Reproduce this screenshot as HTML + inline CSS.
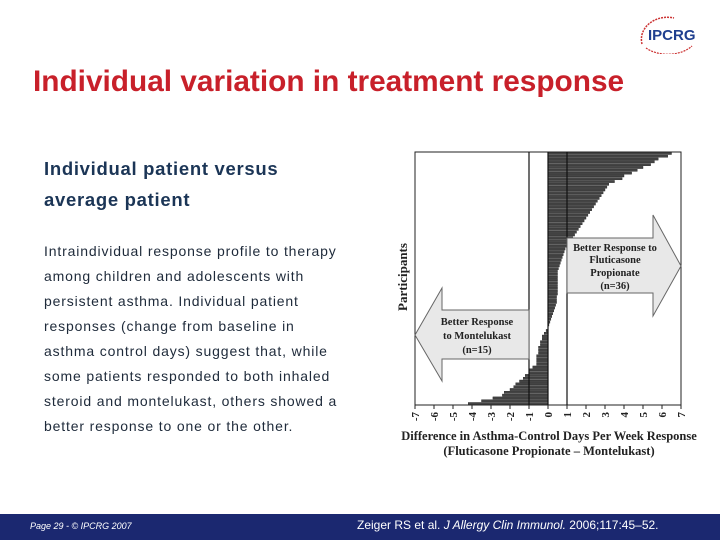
<!DOCTYPE html>
<html><head><meta charset="utf-8"><style>
body{margin:0;width:720px;height:540px;background:#fff;position:relative;overflow:hidden;font-family:"Liberation Sans",sans-serif}
.abs{position:absolute}
</style></head><body>
<div class="abs" style="left:634px;top:14px;width:66px;height:40px">
<svg width="66" height="40"><path d="M8,30 A26,22 0 0 1 40,4" fill="none" stroke="#c33" stroke-width="1.5" stroke-dasharray="2 1"/><path d="M12,34 A30,20 0 0 0 58,32" fill="none" stroke="#c33" stroke-width="1.2" stroke-dasharray="2 1"/></svg>
<div class="abs" style="left:14px;top:13px;font-weight:bold;font-size:15px;color:#1f3f8f">IPCRG</div></div>
<div class="abs" style="left:33px;top:65px;font-size:29.8px;font-weight:bold;color:#c8202a;white-space:nowrap">Individual variation in treatment response</div>
<div class="abs" style="left:44px;top:153px;font-size:18.5px;font-weight:bold;letter-spacing:0.7px;line-height:31px;color:#1b3556;white-space:nowrap">Individual patient versus<br>average patient</div>
<div class="abs" style="left:44px;top:239px;font-size:14px;letter-spacing:0.85px;line-height:25px;color:#1e2a3a;white-space:nowrap">Intraindividual response profile to therapy<br>among children and adolescents with<br>persistent asthma. Individual patient<br>responses (change from baseline in<br>asthma control days) suggest that, while<br>some patients responded to both inhaled<br>steroid and montelukast, others showed a<br>better response to one or the other.</div>
<svg class="abs" style="left:0;top:0" width="720" height="540" id="chart"></svg>
<div class="abs" style="left:0;top:514px;width:720px;height:26px;background:#1b2870"></div>
<div class="abs" style="left:30px;top:521px;font-size:9px;font-style:italic;color:#fff">Page 29 - © IPCRG 2007</div>
<div class="abs" style="left:357px;top:518px;font-size:12px;color:#fff">Zeiger RS et al. <i>J Allergy Clin Immunol.</i> 2006;117:45–52.</div>
<script>
const values=[6.5,6.3,5.8,5.6,5.4,5.0,4.7,4.4,4.0,3.9,3.5,3.2,3.1,3.0,2.9,2.8,2.7,2.6,2.5,2.4,2.3,2.2,2.1,2.0,1.9,1.8,1.7,1.6,1.5,1.4,1.3,1.2,1.1,1.0,0.9,0.85,0.8,0.75,0.7,0.65,0.6,0.55,0.5,0.5,0.5,0.5,0.5,0.5,0.5,0.5,0.5,0.45,0.45,0.45,0.4,0.35,0.3,0.25,0.2,0.15,0.1,0.05,0,-0.1,-0.2,-0.3,-0.3,-0.4,-0.4,-0.5,-0.5,-0.5,-0.6,-0.6,-0.6,-0.6,-0.8,-1.0,-1.0,-1.2,-1.3,-1.5,-1.7,-1.8,-2.0,-2.3,-2.4,-2.9,-3.5,-4.2];
const ticks=[-7,-6,-5,-4,-3,-2,-1,0,1,2,3,4,5,6,7];
const X0=415,X1=681,Y0=152,Y1=405;
const sx=v=>X0+(v+7)/14*(X1-X0);
const svg=document.getElementById('chart');const NS='http://www.w3.org/2000/svg';
function mk(t,a,txt){const e=document.createElementNS(NS,t);for(const k in a)e.setAttribute(k,a[k]);if(txt!=null)e.textContent=txt;svg.appendChild(e);return e;}
const bw=(Y1-Y0)/values.length;
values.forEach((v,i)=>{const y=Y0+i*bw;const b=mk('rect',{x:Math.min(sx(0),sx(v)),y:y+0.3,width:Math.abs(sx(v)-sx(0)),height:bw-0.6,fill:'#444',stroke:'#222','stroke-width':0.4});

});
let f=mk('rect',{x:X0,y:Y0,width:X1-X0,height:Y1-Y0,fill:'none',stroke:'#222','stroke-width':1});

[-1,0,1].forEach(v=>{const l=mk('line',{x1:sx(v),x2:sx(v),y1:Y0,y2:Y1,stroke:'#111','stroke-width':1.2});

});
let ra=mk('polygon',{points:`${sx(1)},238 653,238 653,215 ${X1},266 653,316 653,293 ${sx(1)},293`,fill:'#e8e8e8',stroke:'#666'});

let la=mk('polygon',{points:`${sx(-1)},310 442,310 442,288 ${X0},335 442,381 442,359 ${sx(-1)},359`,fill:'#e8e8e8',stroke:'#666'});

const fs='font-family:"Liberation Serif",serif;font-weight:bold;';
[['Better Response to',251],['Fluticasone',263],['Propionate',276],['(n=36)',289]].forEach(([t,y])=>{const e=mk('text',{x:615,y:y,'text-anchor':'middle','font-size':10.5,style:fs,fill:'#222'},t);
});
[['Better Response',325],['to Montelukast',339],['(n=15)',353]].forEach(([t,y])=>{const e=mk('text',{x:477,y:y,'text-anchor':'middle','font-size':10.5,style:fs,fill:'#222'},t);
});
ticks.forEach(v=>{const tk=mk('line',{x1:sx(v),x2:sx(v),y1:Y1,y2:Y1+4,stroke:'#222'});

const t=mk('text',{x:0,y:0,'font-size':11,style:fs,fill:'#222','text-anchor':'end',transform:`translate(${sx(v)+4},${Y1+7}) rotate(-90)`},String(v));
});
let t1=mk('text',{x:549,y:440,'text-anchor':'middle','font-size':12.5,style:fs,fill:'#222'},'Difference in Asthma-Control Days Per Week Response');

let t2=mk('text',{x:549,y:455,'text-anchor':'middle','font-size':12.5,style:fs,fill:'#222'},'(Fluticasone Propionate – Montelukast)');

let yt=mk('text',{x:0,y:0,'text-anchor':'middle','font-size':13,style:fs,fill:'#222',transform:'translate(407,277) rotate(-90)'},'Participants');

</script>
</body></html>
